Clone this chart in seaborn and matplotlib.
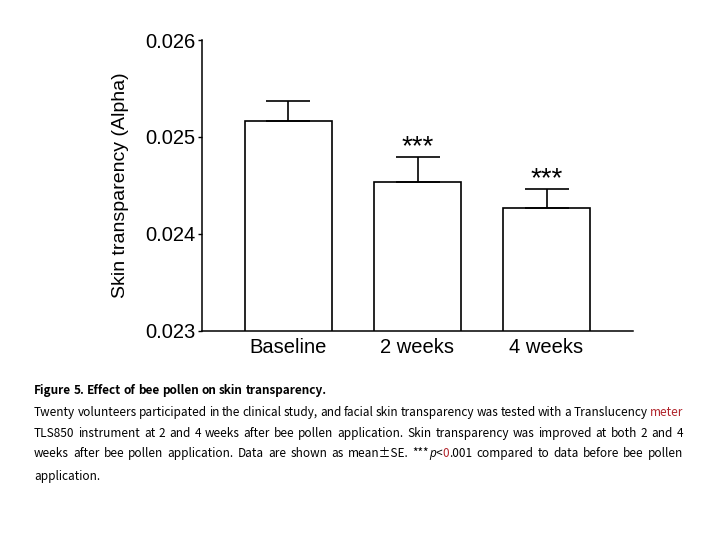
import matplotlib
matplotlib.use("Agg")
import matplotlib.pyplot as plt
import seaborn as sns

# data
groups = ["Baseline", "2 weeks", "4 weeks"]
means = [0.02517, 0.02454, 0.02427]
se = [0.00020, 0.00025, 0.00019]
stars = ["", "***", "***"]
yticks = [0.023, 0.024, 0.025, 0.026]
ytick_labels = ["0.023", "0.024", "0.025", "0.026"]

sns.set_style("white")
plt.rcParams['font.family'] = ['Liberation Sans', 'DejaVu Sans']
plt.rcParams['text.color'] = 'black'
plt.rcParams['xtick.color'] = 'black'
plt.rcParams['ytick.color'] = 'black'
plt.rcParams['axes.labelcolor'] = 'black'

fig = plt.figure(figsize=(7.2, 5.4), dpi=100)
ax = fig.add_axes([202/720, 1-331/540, (633-202)/720, (331-40)/540])

sns.barplot(x=groups, y=means, color="white", saturation=1, edgecolor="black",
            linewidth=1.2, width=0.67, errorbar=None, ax=ax)
ax.errorbar(x=range(len(groups)), y=means, yerr=[[0]*len(se), se], fmt="none",
            ecolor="black", elinewidth=1.2, capsize=16, capthick=1.2)
for i, s in enumerate(stars):
    if s:
        ax.text(i, means[i] + se[i] - 0.00003, s, ha="center", va="bottom", fontsize=20)

ax.set_ylim(0.023, 0.026)
ax.set_xlim(-0.67, 2.67)
ax.set_yticks(yticks)
ax.set_yticklabels(ytick_labels)
ax.tick_params(axis="y", length=3, width=1, pad=1.5, labelsize=14.5, left=True)
ax.tick_params(axis="x", length=0, pad=5, labelsize=14.5)
ax.set_xlabel("")
ax.set_ylabel("Skin transparency (Alpha)", fontsize=14, labelpad=12)
for side in ["top", "right"]:
    ax.spines[side].set_visible(False)
for side in ["left", "bottom"]:
    ax.spines[side].set_color("black")
    ax.spines[side].set_linewidth(1.1)

# caption, justified like the paper
cap_font = ['Noto Sans CJK KR', 'DejaVu Sans']
red = "#b0232a"
renderer = fig.canvas.get_renderer()


def draw_line(y, words, justify=True, x0=34, x1=683, size=8.5, weight="normal"):
    texts = []
    widths = []
    for word in words:
        runs = []
        w = 0
        for s, kw in word:
            kw = dict(kw)
            fam = kw.pop("family", cap_font)
            t = fig.text(0, 0, s, fontsize=size, family=fam, weight=weight,
                         va="baseline", ha="left", **kw)
            bw = t.get_window_extent(renderer).width
            runs.append((t, bw))
            w += bw
        texts.append(runs)
        widths.append(w)
    if justify and len(words) > 1:
        gap = (x1 - x0 - sum(widths)) / (len(words) - 1)
    else:
        probe = fig.text(0, 0, "a a", fontsize=size, family=cap_font, weight=weight)
        probe2 = fig.text(0, 0, "aa", fontsize=size, family=cap_font, weight=weight)
        gap = probe.get_window_extent(renderer).width - probe2.get_window_extent(renderer).width
        probe.remove()
        probe2.remove()
    x = x0
    for runs in texts:
        for t, bw in runs:
            t.set_position((x / 720, 1 - y / 540))
            x += bw
        x += gap


def plain(line):
    return [[(w, {})] for w in line.split()]


draw_line(394, plain("Figure 5. Effect of bee pollen on skin transparency."),
          justify=False, weight="bold")
line1 = plain("Twenty volunteers participated in the clinical study, and facial skin "
              "transparency was tested with a Translucency") + [[("meter", {"color": red})]]
draw_line(416, line1)
draw_line(437, plain("TLS850 instrument at 2 and 4 weeks after bee pollen application. "
                     "Skin transparency was improved at both 2 and 4"))
line3 = plain("weeks after bee pollen application. Data are shown as mean\u00b1SE.")
line3 += [[("***", {}), ("p", {"style": "italic", "family": ["Open Sans", "DejaVu Sans"]}),
           ("<", {}), ("0", {"color": red}), (".001", {})]]
line3 += plain("compared to data before bee pollen")
draw_line(457, line3)
draw_line(480, plain("application."), justify=False)

fig.savefig("out.png", dpi=100)
